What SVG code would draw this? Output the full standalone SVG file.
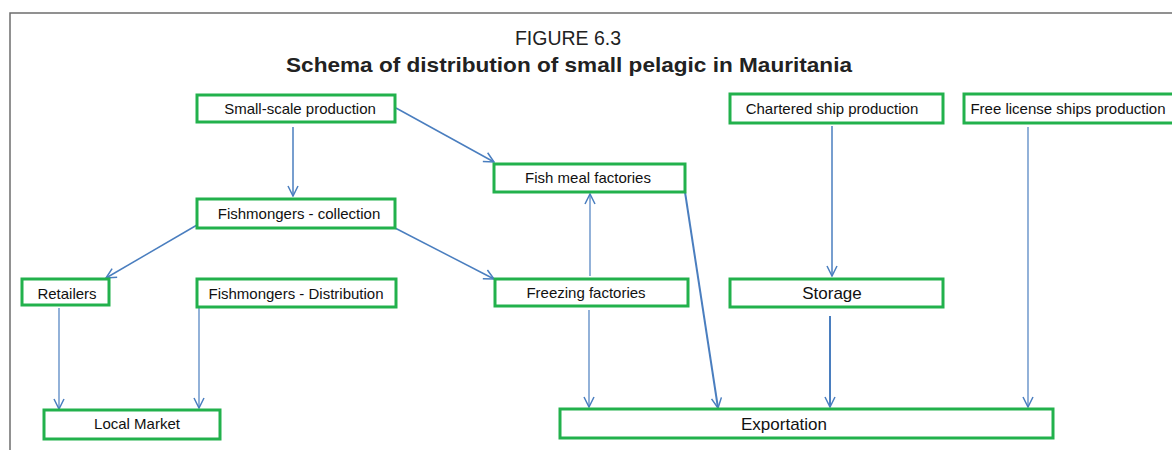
<svg xmlns="http://www.w3.org/2000/svg" width="1172" height="450" viewBox="0 0 1172 450">
<style>
.box{fill:#fff;stroke:#22b14c;stroke-width:3}
.lbl{font-family:"Liberation Sans",Arial,sans-serif;font-size:15px;fill:#111;text-anchor:middle}
.big{font-size:17px}
.edge{stroke:#4a7ebf;stroke-width:1.5;fill:none;marker-end:url(#ah)}
.thin{stroke-width:1.2}
.thick{stroke-width:2}
.frame{stroke:#6d6d6d;stroke-width:1.5;fill:none}
</style>
<defs>
<marker id="ah" viewBox="0 0 12 12" refX="11" refY="6" markerWidth="12" markerHeight="12" markerUnits="userSpaceOnUse" orient="auto">
<path d="M1,1 L11,6 L1,11" fill="none" stroke="#4a7ebf" stroke-width="1.5"/>
</marker>
</defs>
<rect width="1172" height="450" fill="#fff"/>
<path class="frame" d="M10,450 V13 H1172"/>
<text x="568" y="45" style="font-family:'Liberation Sans',Arial,sans-serif;font-size:19.5px;fill:#222" text-anchor="middle">FIGURE 6.3</text>
<text x="569" y="72" style="font-family:'Liberation Sans',Arial,sans-serif;font-size:21px;font-weight:bold;fill:#222" text-anchor="middle" textLength="566" lengthAdjust="spacingAndGlyphs">Schema of distribution of small pelagic in Mauritania</text>
<g id="connectors">
<line class="edge" x1="293" y1="127" x2="293" y2="196"/>
<line class="edge" x1="396" y1="108" x2="494" y2="162"/>
<line class="edge" x1="197" y1="225" x2="106" y2="278"/>
<line class="edge" x1="395" y1="228" x2="494" y2="279"/>
<line class="edge thin" x1="590" y1="276" x2="590" y2="194"/>
<line class="edge thick" x1="685" y1="192" x2="718" y2="408"/>
<line class="edge thin" x1="589" y1="310" x2="589" y2="407"/>
<line class="edge" x1="832" y1="126" x2="832" y2="276"/>
<line class="edge thick" x1="830" y1="316" x2="830" y2="407"/>
<line class="edge thin" x1="1028" y1="127" x2="1028" y2="407"/>
<line class="edge thin" x1="59" y1="308" x2="59" y2="409"/>
<line class="edge thin" x1="199" y1="308" x2="199" y2="408"/>
</g>
<g id="small-scale"><rect class="box" x="197" y="95" width="198" height="27"/><text class="lbl" x="300" y="114">Small-scale production</text></g>
<g id="chartered"><rect class="box" x="730" y="94" width="213" height="29"/><text class="lbl" x="832" y="114">Chartered ship production</text></g>
<g id="free-license"><rect class="box" x="964" y="94" width="215" height="29"/><text class="lbl" x="1068" y="114">Free license ships production</text></g>
<g id="fish-meal"><rect class="box" x="494" y="164" width="191" height="28"/><text class="lbl" x="588" y="183">Fish meal factories</text></g>
<g id="fishmongers-collection"><rect class="box" x="197" y="199" width="198" height="29"/><text class="lbl" x="299" y="219">Fishmongers - collection</text></g>
<g id="retailers"><rect class="box" x="22" y="279" width="87" height="26"/><text class="lbl" x="67" y="299">Retailers</text></g>
<g id="fishmongers-distribution"><rect class="box" x="197" y="279" width="199" height="28"/><text class="lbl" x="296" y="299">Fishmongers - Distribution</text></g>
<g id="freezing"><rect class="box" x="495" y="279" width="193" height="27"/><text class="lbl" x="586" y="298">Freezing factories</text></g>
<g id="storage"><rect class="box" x="730" y="279" width="213" height="28"/><text class="lbl big" x="832" y="299">Storage</text></g>
<g id="local-market"><rect class="box" x="44" y="410" width="176" height="29"/><text class="lbl" x="137" y="429">Local Market</text></g>
<g id="exportation"><rect class="box" x="560" y="409" width="493" height="29"/><text class="lbl big" x="784" y="430">Exportation</text></g>
</svg>
